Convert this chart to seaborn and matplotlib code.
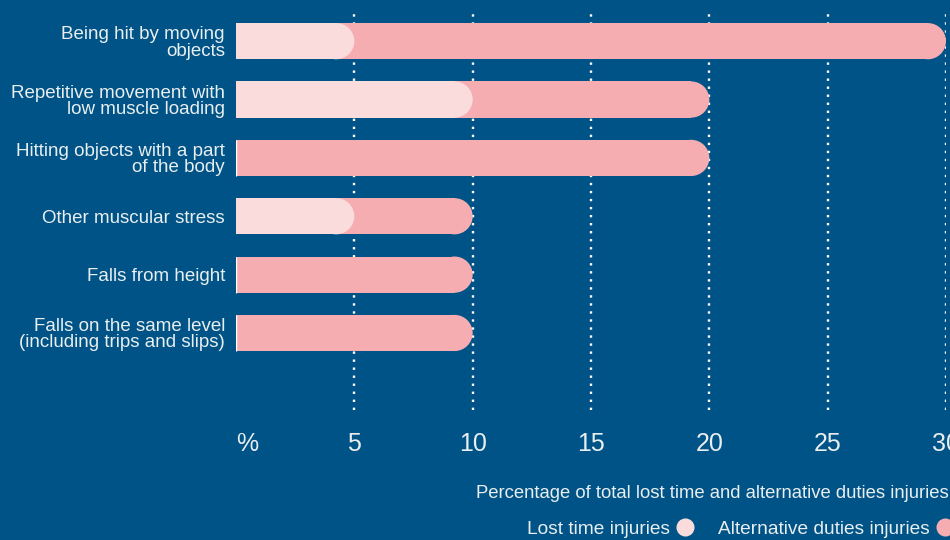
import matplotlib
matplotlib.use("Agg")
import numpy as np
import pandas as pd
import matplotlib.pyplot as plt
import seaborn as sns
from matplotlib.patches import Ellipse
from matplotlib.lines import Line2D

# ---------------- data ----------------
categories = [
    "Being hit by moving\nobjects",
    "Repetitive movement with\nlow muscle loading",
    "Hitting objects with a part\nof the body",
    "Other muscular stress",
    "Falls from height",
    "Falls on the same level\n(including trips and slips)",
]
lost_time = [5, 10, 0, 5, 0, 0]
alt_duties = [25, 10, 20, 5, 10, 10]

x_ticks = [0, 5, 10, 15, 20, 25, 30]
x_tick_labels = ["%", "5", "10", "15", "20", "25", "30"]

df = pd.DataFrame({
    "Category": categories,
    "Lost": lost_time,
    "Alt": alt_duties,
})
df["Total"] = df["Lost"] + df["Alt"]

# ---------------- style ----------------
BG = "#005386"
PINK = "#f6adb2"
LIGHT = "#fadcdd"
TXT = "#e9eef0"

sns.set_theme(style="white")
plt.rcParams["font.family"] = ["Liberation Sans", "DejaVu Sans"]

fig = plt.figure(figsize=(9.5, 5.4), dpi=100)
fig.patch.set_facecolor(BG)
W, H = 950, 540
ax = fig.add_axes([236 / W, (H - 410) / H, (946 - 236) / W, (410 - 12) / H])
ax.set_facecolor(BG)

sns.barplot(data=df, x="Total", y="Category", color=PINK, width=0.62,
            orient="h", saturation=1, ax=ax, zorder=2)
sns.barplot(data=df, x="Lost", y="Category", color=LIGHT, width=0.62,
            orient="h", saturation=1, ax=ax, zorder=3)

ax.set_xlim(0, 30)
ax.set_ylim(6.32, -0.5)

# round the right end of each bar
p0 = ax.transData.transform((0, 0))
p1 = ax.transData.transform((1, 1))
px_x = abs(p1[0] - p0[0])
px_y = abs(p1[1] - p0[1])


def round_caps(container, color, z):
    for p in container.patches:
        w = p.get_width()
        if w <= 0:
            continue
        ry = p.get_height() / 2
        rx = ry * px_y / px_x
        yc = p.get_y() + ry
        p.set_width(w - rx)
        p.set_linewidth(0)
        ax.add_patch(Ellipse((w - rx, yc), 2 * rx, 2 * ry, facecolor=color,
                             linewidth=0, zorder=z))


round_caps(ax.containers[0], PINK, 2)
round_caps(ax.containers[1], LIGHT, 3)

# grid
ax.set_axisbelow(True)
for v in x_ticks[1:]:
    ax.axvline(v, color="white", linestyle=(0, (1, 2.4)), linewidth=1.7, zorder=1)

for s in ax.spines.values():
    s.set_visible(False)

ax.set_xticks(x_ticks)
ax.set_xticklabels(x_tick_labels, fontsize=18, color=TXT)
ax.get_xticklabels()[0].set_ha("left")
ax.tick_params(axis="x", length=0, pad=16)
ax.tick_params(axis="y", length=0, pad=8, labelsize=13.5, labelcolor=TXT)
for t in ax.get_yticklabels():
    t.set_linespacing(0.95)
ax.set_ylabel("")

ax.set_xlabel("Percentage of total lost time and alternative duties injuries",
              fontsize=13.3, color=TXT, ha="right", va="center")
ax.xaxis.set_label_coords((949 - 236) / (946 - 236), -(493 - 410) / (410 - 12))

handles = [
    Line2D([], [], marker="o", linestyle="none", markersize=13,
           markerfacecolor=LIGHT, markeredgewidth=0),
    Line2D([], [], marker="o", linestyle="none", markersize=13,
           markerfacecolor=PINK, markeredgewidth=0),
]
fig.legend(handles, ["Lost time injuries", "Alternative duties injuries"],
           loc="center left", bbox_to_anchor=(527 / W, 11 / H), ncol=2,
           frameon=False, markerfirst=False, borderpad=0, borderaxespad=0,
           handletextpad=0.3, columnspacing=1.2, handlelength=1.0,
           fontsize=13.8, labelcolor=TXT)

fig.savefig("out.png", dpi=100, facecolor=BG)
